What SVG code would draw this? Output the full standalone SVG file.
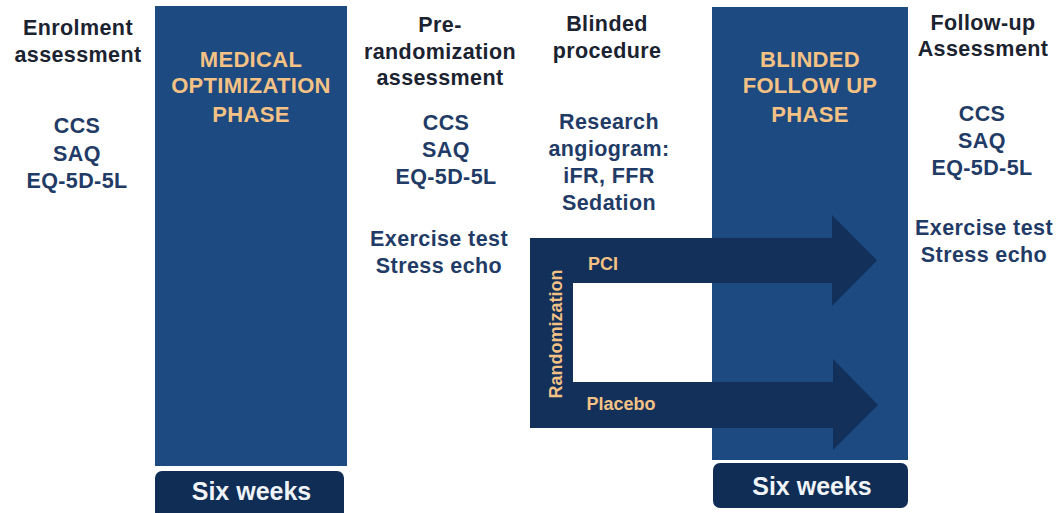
<svg xmlns="http://www.w3.org/2000/svg" width="1059" height="513" viewBox="0 0 1059 513">
<defs>
<style>
text{font-family:"Liberation Sans",Arial,sans-serif;font-weight:bold;text-anchor:middle}
.hd{font-size:21.5px;fill:#1b2230;letter-spacing:0.4px}
.it{font-size:21.5px;fill:#1f3b66;letter-spacing:0.4px}
.ph{font-size:22px;fill:#f4c285;letter-spacing:0.3px}
.phase{fill:#1d4a80}
.wk{fill:#0f2d55}
.wkt{font-size:25px;fill:#f0f3f8}
.arr{fill:#12305a}
.lb{font-size:18px;fill:#f4c285}
</style>
</defs>
<rect width="1059" height="513" fill="#ffffff"/>
<g id="enrolment">
<text class="hd" x="78" y="35">Enrolment</text>
<text class="hd" x="78" y="62">assessment</text>
<text class="it" x="77" y="133">CCS</text>
<text class="it" x="77" y="160.5">SAQ</text>
<text class="it" x="77" y="188">EQ-5D-5L</text>
</g>
<g id="medical-phase">
<rect class="phase" x="155" y="6" width="192" height="460"/>
<text class="ph" x="251" y="66.5">MEDICAL</text>
<text class="ph" x="251" y="93">OPTIMIZATION</text>
<text class="ph" x="251" y="121.5">PHASE</text>
</g>
<g id="six-weeks-1">
<rect class="wk" x="155" y="471" width="189" height="50" rx="7"/>
<text class="wkt" x="251.5" y="500">Six weeks</text>
</g>
<g id="pre-randomization">
<text class="hd" x="440" y="31.5">Pre-</text>
<text class="hd" x="440" y="58.5">randomization</text>
<text class="hd" x="440" y="85">assessment</text>
<text class="it" x="446" y="130">CCS</text>
<text class="it" x="446" y="157">SAQ</text>
<text class="it" x="446" y="184">EQ-5D-5L</text>
<text class="it" x="439" y="246">Exercise test</text>
<text class="it" x="439" y="273">Stress echo</text>
</g>
<g id="blinded-procedure">
<text class="hd" x="607" y="30.5">Blinded</text>
<text class="hd" x="607" y="58">procedure</text>
<text class="it" x="609" y="129">Research</text>
<text class="it" x="609" y="156">angiogram:</text>
<text class="it" x="609" y="183">iFR, FFR</text>
<text class="it" x="609" y="210">Sedation</text>
</g>
<g id="follow-up-phase">
<rect class="phase" x="712" y="7" width="196" height="453"/>
<text class="ph" x="810" y="66.5">BLINDED</text>
<text class="ph" x="810" y="93">FOLLOW UP</text>
<text class="ph" x="810" y="121.5">PHASE</text>
</g>
<g id="six-weeks-2">
<rect class="wk" x="713" y="463" width="195" height="45" rx="7"/>
<text class="wkt" x="812" y="495">Six weeks</text>
</g>
<g id="follow-up-assessment">
<text class="hd" x="983" y="30">Follow-up</text>
<text class="hd" x="983" y="56">Assessment</text>
<text class="it" x="982" y="121">CCS</text>
<text class="it" x="982" y="148">SAQ</text>
<text class="it" x="982" y="175">EQ-5D-5L</text>
<text class="it" x="984" y="235">Exercise test</text>
<text class="it" x="984" y="262">Stress echo</text>
</g>
<g id="connectors">
<path class="arr" d="M530,238 H832 V215 L877,260.5 L832,306 V283 H573 V382 H833 V359 L878,405 L833,450 V428 H530 Z"/>
<text class="lb" transform="translate(562,334) rotate(-90)">Randomization</text>
<text class="lb" x="603" y="270">PCI</text>
<text class="lb" x="621" y="410">Placebo</text>
</g>
</svg>
